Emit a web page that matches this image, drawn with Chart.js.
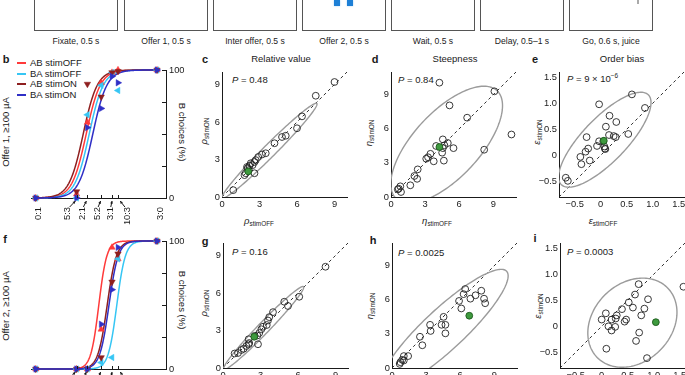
<!DOCTYPE html>
<html>
<head>
<meta charset="utf-8">
<title>Stimulation effects on choice</title>
<script src="https://cdn.jsdelivr.net/npm/chart.js@4.4.1/dist/chart.umd.min.js"></script>
<style>
  html, body { margin: 0; padding: 0; }
  body {
    position: relative; width: 685px; height: 375px; overflow: hidden;
    background: #fff; color: #1a1a1a;
    font-family: "Liberation Sans", Arial, Helvetica, sans-serif;
  }
  canvas { position: absolute; }
  .t    { position: absolute; white-space: nowrap; font-size: 9.5px; line-height: 1; transform: translate(-50%, -50%); }
  .l    { transform: translate(0, -50%); }
  .up   { transform: translate(-50%, -50%) rotate(-90deg); }
  .down { transform: translate(-50%, -50%) rotate(90deg); }
  .tag  { font-weight: bold; font-size: 11px; }
  .step { font-size: 8.6px; color: #222; }
  .box  { position: absolute; top: -12px; height: 43px; width: 84px; border: 1px solid #555; box-sizing: border-box; }
  .cue  { position: absolute; background: #1d7fd6; box-shadow: 0 0 2px #9cc8ee; }
  sub { font-size: 6.4px; vertical-align: -2px; line-height: 0; }
  sup { font-size: 6.4px; vertical-align: 4px; line-height: 0; }
  .leg-line { position: absolute; height: 2px; width: 9px; }
</style>
</head>
<body>

<!-- ── Trial sequence strip ── -->
<div class="box" style="left:34px"></div>
<div class="box" style="left:124px"></div>
<div class="box" style="left:213px"></div>
<div class="box" style="left:302px"></div>
<div class="box" style="left:391px"></div>
<div class="box" style="left:480px"></div>
<div class="box" style="left:569px"></div>
<div class="cue" style="left:334px; top:0; width:6px; height:6px"></div>
<div class="cue" style="left:347px; top:0; width:6px; height:6px"></div>
<div class="cue" style="left:637px; top:0; width:2px; height:4px; background:#aaa; box-shadow:none"></div>
<div class="t step" style="left:76px;  top:41px">Fixate, 0.5 s</div>
<div class="t step" style="left:166px; top:41px">Offer 1, 0.5 s</div>
<div class="t step" style="left:255px; top:41px">Inter offer, 0.5 s</div>
<div class="t step" style="left:344px; top:41px">Offer 2, 0.5 s</div>
<div class="t step" style="left:433px; top:41px">Wait, 0.5 s</div>
<div class="t step" style="left:522px; top:41px">Delay, 0.5–1 s</div>
<div class="t step" style="left:611px; top:41px">Go, 0.6 s, juice</div>

<!-- ── Panel letters & titles ── -->
<div class="t tag" style="left:6px;   top:59px">b</div>
<div class="t tag" style="left:205px; top:59px">c</div>
<div class="t tag" style="left:375px; top:59px">d</div>
<div class="t tag" style="left:535px; top:59px">e</div>
<div class="t tag" style="left:5px;   top:239px">f</div>
<div class="t tag" style="left:205px; top:241px">g</div>
<div class="t tag" style="left:373px; top:240px">h</div>
<div class="t tag" style="left:535px; top:238px">i</div>
<div class="t" style="left:281px; top:59px">Relative value</div>
<div class="t" style="left:455px; top:59px">Steepness</div>
<div class="t" style="left:622px; top:59px">Order bias</div>

<!-- ── Choice panel labels ── -->
<div class="t up"   style="left:6px;   top:132px">Offer 1, ≥100 µA</div>
<div class="t up"   style="left:6px;   top:306px">Offer 2, ≥100 µA</div>
<div class="t down" style="left:182px; top:132px">B choices (%)</div>
<div class="t down" style="left:182px; top:300px">B choices (%)</div>
<div id="legend"></div>

<!-- ── Scatter axis labels & stats ── -->
<div class="t up" style="left:204px; top:131px"><i>ρ</i><sub>stimON</sub></div>
<div class="t up" style="left:369px; top:133px"><i>η</i><sub>stimON</sub></div>
<div class="t up" style="left:537px; top:132px"><i>ε</i><sub>stimON</sub></div>
<div class="t up" style="left:204px; top:303px"><i>ρ</i><sub>stimON</sub></div>
<div class="t up" style="left:370px; top:306px"><i>η</i><sub>stimON</sub></div>
<div class="t up" style="left:538px; top:306px"><i>ε</i><sub>stimON</sub></div>
<div class="t" style="left:259px; top:221px"><i>ρ</i><sub>stimOFF</sub></div>
<div class="t" style="left:437px; top:221px"><i>η</i><sub>stimOFF</sub></div>
<div class="t" style="left:603px; top:221px"><i>ε</i><sub>stimOFF</sub></div>
<div class="t l" style="left:232px; top:80px"><i>P</i> = 0.48</div>
<div class="t l" style="left:398px; top:80px"><i>P</i> = 0.84</div>
<div class="t l" style="left:567px; top:79px"><i>P</i> = 9 × 10<sup>−6</sup></div>
<div class="t l" style="left:232px; top:252px"><i>P</i> = 0.16</div>
<div class="t l" style="left:398px; top:253px"><i>P</i> = 0.0025</div>
<div class="t l" style="left:567px; top:252px"><i>P</i> = 0.0003</div>

<canvas id="choice1"></canvas>
<canvas id="choice2"></canvas>
<canvas id="rho1"></canvas>
<canvas id="eta1"></canvas>
<canvas id="eps1"></canvas>
<canvas id="rho2"></canvas>
<canvas id="eta2"></canvas>
<canvas id="eps2"></canvas>

<script>
'use strict';

// ── Offer types (qB:qA) on the choice panels ───
const OFFER_LABELS = ['0:1', '5:3', '2:1', '5:2', '3:1', '10:3', '3:0'];
const OFFER_X      = [-0.17, 0.51, 0.69, 0.92, 1.10, 1.20, 1.85];  // log(qB/qA); 0:1 and 3:0 parked at the ends
const LABEL_X      = [-0.13, 0.35, 0.60, 0.85, 1.07, 1.35, 1.90];  // labels are spread out, arrows point back
const PCT_TICKS    = [0, 25, 50, 75, 100];

const CONDITIONS   = ['AB stimOFF', 'BA stimOFF', 'AB stimON', 'BA stimON'];
const COND_COLORS  = ['#ff3a3a', '#36c6f4', '#8e1f1f', '#2f2fc6'];
const COND_ROT     = [0, -90, 180, 90];   // ▲ ◀ ▼ ▶

// b: stimulation during offer 1 (% B choices)
const B1_AB_OFF = [0, 3, 59, 90, 98, 100, 100];
const B1_BA_OFF = [0, 0, 65, 88, 98, 84, 100];
const B1_AB_ON  = [0, 5, 89, 79, 98, 99, 100];
const B1_BA_ON  = [0, 0, 55, 70, 95, 90, 100];
const FIT1_CENTER = [0.67, 0.72, 0.62, 0.78];
const FIT1_SLOPE  = [8.5, 8.5, 8.5, 8.5];

// f: stimulation during offer 2
const B2_AB_OFF = [0, 0, 0, 31, 95, 86, 100];
const B2_BA_OFF = [0, 0, 0, 5, 9, 86, 100];
const B2_AB_ON  = [0, 0, 0, 9, 68, 90, 100];
const B2_BA_ON  = [0, 0, 0, 35, 62, 95, 100];
const FIT2_CENTER = [0.88, 1.18, 1.02, 1.05];
const FIT2_SLOPE  = [15, 14, 13, 13];

// ── Per-session fit parameters (stimOFF vs stimON) ──
const RHO1_OFF = [9.0, 7.5, 6.4, 6.0, 5.1, 4.8, 4.2, 3.5, 3.2, 2.9, 2.7, 2.6, 2.3, 2.45, 2.2, 2.05, 2.15, 2.0, 1.9, 1.8, 2.6, 0.9];
const RHO1_ON  = [9.2, 8.1, 6.45, 5.5, 4.9, 4.8, 4.3, 3.5, 3.4, 3.2, 2.95, 2.8, 2.7, 2.55, 2.5, 2.3, 2.15, 2.4, 1.9, 1.75, 1.9, 0.55];
const RHO1_MEAN = [2.1, 2.05];
const RHO1_ELLIPSE = [3.8, 3.7, 5.35, 0.5, 45];   // centre x, centre y, semi-axes, angle

const ETA1_OFF = [4.26, 9.1, 5.15, 6.7, 10.6, 8.2, 4.56, 5.0, 4.7, 5.5, 3.97, 4.56, 4.5, 4.65, 3.76, 3.47, 3.26, 3.1, 2.35, 2.3, 2.06, 1.7, 0.82, 0.68, 0.88, 0.6];
const ETA1_ON  = [10.06, 9.3, 8.06, 6.98, 5.5, 4.16, 5.07, 4.75, 4.55, 4.3, 4.49, 4.3, 3.9, 3.2, 3.14, 3.8, 3.5, 3.37, 2.43, 1.6, 1.85, 1.03, 0.94, 0.73, 0.44, 0.67];
const ETA1_MEAN = [4.26, 4.4];
const ETA1_ELLIPSE = [4.9, 4.6, 6.5, 2.9, 47];

const EPS1_OFF = [-0.03, 0.60, 0.85, 0.17, 0.30, 0.10, -0.27, 0.16, 0.25, 0.29, 0.53, -0.03, 0.05, -0.07, 0.07, 0.08, 0.09, -0.24, -0.29, -0.39, -0.21, -0.37, -0.67, -0.63];
const EPS1_ON  = [0.98, 1.17, 0.91, 0.76, 0.64, 0.55, 0.35, 0.39, 0.37, 0.35, 0.41, 0.27, 0.27, 0.18, 0.17, 0.13, 0.12, 0.13, 0.07, -0.03, -0.10, -0.17, -0.43, -0.49];
const EPS1_MEAN = [0.06, 0.28];
const EPS1_ELLIPSE = [0.08, 0.3, 1.2, 0.42, 46];

const RHO2_OFF = [8.2, 4.9, 6.1, 5.2, 4.0, 3.7, 3.6, 3.5, 3.2, 3.07, 2.9, 2.75, 2.53, 2.05, 2.1, 1.87, 1.65, 1.47, 1.2, 0.93, 2.05, 2.8];
const RHO2_ON  = [8.1, 5.3, 5.7, 4.96, 4.47, 4.07, 3.8, 3.44, 3.3, 3.1, 2.8, 2.6, 2.57, 2.3, 2.0, 1.76, 1.54, 1.44, 1.2, 1.16, 1.9, 1.9];
const RHO2_MEAN = [2.5, 2.5];
const RHO2_ELLIPSE = [3.25, 3.2, 4.6, 0.45, 46];

const ETA2_OFF = [6.44, 6.3, 5.9, 6.1, 6.9, 7.35, 7.86, 8.1, 8.2, 4.54, 4.36, 4.7, 4.7, 3.35, 3.4, 2.46, 2.67, 1.04, 1.42, 0.9, 0.74, 0.68, 1.04];
const ETA2_ON  = [6.95, 6.5, 5.9, 5.24, 6.1, 6.4, 6.8, 6.1, 5.7, 4.5, 3.8, 3.8, 3.05, 3.8, 3.26, 2.75, 2.0, 1.05, 1.05, 0.72, 0.51, 0.36, 0.66];
const ETA2_MEAN = [6.8, 4.6];
const ETA2_ELLIPSE = [4.6, 3.4, 7.5, 1.8, 43];

const EPS2_OFF = [1.57, 0.71, 0.64, 0.89, 0.52, 0.39, 0.6, 0.82, 0.76, 0.47, 0.44, 0.29, 0.27, 0.19, 0.08, 0.0, 0.13, 0.19, 0.26, 0.72, 0.66, 0.87, 0.09];
const EPS2_ON  = [0.76, 0.81, 0.61, 0.52, 0.46, 0.33, 0.36, 0.34, 0.21, 0.13, 0.09, 0.21, 0.15, 0.13, 0.25, 0.13, 0.0, -0.08, -0.01, -0.12, -0.28, -0.61, -0.43];
const EPS2_MEAN = [1.04, 0.08];
const EPS2_ELLIPSE = [0.59, 0.07, 0.95, 0.75, 45];

// ── Axis ranges & ticks ──
const RHO_RANGE = [0, 10];
const ETA_RANGE = [0, 11];
const EPS_RANGE = [-0.8, 1.6];
const RHO_TICKS = [0, 3, 6, 9];
const ETA_TICKS = [0, 3, 6, 9];
const EPS_TICKS = [-0.5, 0, 0.5, 1.0, 1.5];

const FONT = '"Liberation Sans", Arial, Helvetica, sans-serif';
const TICK_FONT = { family: FONT, size: 9.3 };
const INK = '#1a1a1a';

// ── Helpers ───────────────────────────────────
function place(id, left, top, w, h) {
  const c = document.getElementById(id);
  c.width = w; c.height = h;
  c.style.left = left + 'px'; c.style.top = top + 'px';
  return c;
}

function arrow(ctx, x1, y1, x2, y2) {
  const a = Math.atan2(y2 - y1, x2 - x1);
  ctx.beginPath(); ctx.moveTo(x1, y1); ctx.lineTo(x2, y2); ctx.stroke();
  ctx.beginPath();
  ctx.moveTo(x2, y2);
  ctx.lineTo(x2 - 3 * Math.cos(a - 0.5), y2 - 3 * Math.sin(a - 0.5));
  ctx.lineTo(x2 - 3 * Math.cos(a + 0.5), y2 - 3 * Math.sin(a + 0.5));
  ctx.closePath(); ctx.fill();
}

const fixedTicks = vals => s => { s.ticks = vals.map(v => ({ value: v })); };

// ── Legend (custom, like the paper) ────────────
document.getElementById('legend').innerHTML = CONDITIONS.map((c, i) => {
  const y = 63 + i * 10.7;
  return `<div class="leg-line" style="left:17px; top:${y - 1}px; background:${COND_COLORS[i]}"></div>
          <div class="t l" style="left:30px; top:${y}px">${c}</div>`;
}).join('');

// ── Plugin: fitted sigmoids, offer ticks and arrows ──
const choiceDecor = {
  id: 'choiceDecor',
  beforeDatasetsDraw(chart, args, opts) {
    const { ctx, scales: { x, y } } = chart;
    const x0 = x.getPixelForValue(OFFER_X[0]);
    const x1 = x.getPixelForValue(OFFER_X[OFFER_X.length - 1]);
    ctx.save();
    ctx.lineWidth = 1.5;
    opts.centers.forEach((c, i) => {
      const k = opts.slopes[i];
      ctx.strokeStyle = COND_COLORS[i];
      ctx.beginPath();
      for (let px = x0; px <= x1 + 0.01; px += 0.5) {
        const v = x.getValueForPixel(px);
        const py = y.getPixelForValue(100 / (1 + Math.exp(-k * (v - c))));
        if (px === x0) ctx.moveTo(px, py); else ctx.lineTo(px, py);
      }
      ctx.stroke();
    });
    ctx.restore();
  },
  afterDraw(chart) {
    const { ctx, chartArea: a, scales: { x, y } } = chart;
    ctx.save();
    ctx.strokeStyle = INK; ctx.fillStyle = INK; ctx.lineWidth = 1;
    PCT_TICKS.forEach(v => {
      const py = Math.round(y.getPixelForValue(v)) + 0.5;
      ctx.beginPath(); ctx.moveTo(a.right, py); ctx.lineTo(a.right - 4, py); ctx.stroke();
    });
    for (let i = 1; i < OFFER_X.length - 1; i++) {
      const tx = Math.round(x.getPixelForValue(OFFER_X[i])) + 0.5;
      ctx.beginPath(); ctx.moveTo(tx, a.bottom); ctx.lineTo(tx, a.bottom - 3); ctx.stroke();
      const lx = x.getPixelForValue(LABEL_X[i]);
      const d = tx - lx;
      arrow(ctx, lx + d * 0.25, a.bottom + 9, lx + d * 0.8, a.bottom + 3);
    }
    ctx.restore();
  },
};

function choiceChart(id, top, series, centers, slopes) {
  const canvas = place(id, 0, top, 200, 180);
  return new Chart(canvas, {
    type: 'scatter',
    data: {
      datasets: series.map((vals, i) => ({
        label: CONDITIONS[i],
        data: vals.map((v, j) => ({ x: OFFER_X[j], y: v })),
        order: series.length - i,          // BA stimON ends up on top
        pointStyle: 'triangle',
        rotation: COND_ROT[i],
        pointRadius: 3.7,
        backgroundColor: COND_COLORS[i],
        borderColor: COND_COLORS[i],
        borderWidth: 0.5,
        clip: false,
      })),
    },
    options: {
      responsive: false, animation: false, devicePixelRatio: 1,
      layout: { padding: { left: 31, top: 10, right: 14, bottom: 12 } },
      plugins: { legend: { display: false }, tooltip: { enabled: false }, choiceDecor: { centers, slopes } },
      scales: {
        x: {
          type: 'linear', min: -0.25, max: 2.0,
          afterBuildTicks: fixedTicks(LABEL_X),
          afterFit: s => { s.height = 30; },
          grid: { display: false, drawTicks: false },
          border: { color: INK, width: 1 },
          ticks: {
            autoSkip: false, minRotation: 90, maxRotation: 90, padding: 9,
            font: TICK_FONT, color: INK,
            callback: (v, i) => OFFER_LABELS[i],
          },
        },
        y: {
          position: 'right', min: 0, max: 100,
          afterBuildTicks: fixedTicks(PCT_TICKS),
          afterFit: s => { s.width = 20; },
          grid: { display: false, drawTicks: false },
          border: { color: INK, width: 1 },
          ticks: { padding: 3, font: TICK_FONT, color: INK, callback: v => (v === 0 || v === 100) ? String(v) : '' },
        },
      },
    },
    plugins: [choiceDecor],
  });
}

// ── Plugin: identity line + covariance ellipse ──
const scatterDecor = {
  id: 'scatterDecor',
  beforeDatasetsDraw(chart, args, opts) {
    const { ctx, chartArea: a, scales: { x, y } } = chart;
    ctx.save();
    ctx.beginPath(); ctx.rect(a.left, a.top, a.right - a.left, a.bottom - a.top); ctx.clip();

    ctx.setLineDash([3, 3]); ctx.strokeStyle = INK; ctx.lineWidth = 0.9;
    ctx.beginPath();
    ctx.moveTo(x.getPixelForValue(x.min), y.getPixelForValue(x.min));
    ctx.lineTo(x.getPixelForValue(x.max), y.getPixelForValue(x.max));
    ctx.stroke();

    const [cx, cy, ra, rb, deg] = opts.ellipse;
    const th = deg * Math.PI / 180;
    ctx.setLineDash([]); ctx.strokeStyle = '#9b9b9b'; ctx.lineWidth = 1.4;
    ctx.beginPath();
    for (let s = 0; s <= 360; s += 2) {
      const t = s * Math.PI / 180;
      const vx = cx + ra * Math.cos(th) * Math.cos(t) - rb * Math.sin(th) * Math.sin(t);
      const vy = cy + ra * Math.sin(th) * Math.cos(t) + rb * Math.cos(th) * Math.sin(t);
      const px = x.getPixelForValue(vx), py = y.getPixelForValue(vy);
      if (s === 0) ctx.moveTo(px, py); else ctx.lineTo(px, py);
    }
    ctx.closePath(); ctx.stroke();
    ctx.restore();
  },
};

function tickText(v) {
  if (v === 0) return '0';
  if (Number.isInteger(v) && Math.abs(v) >= 2) return String(v);
  return (v < 0 ? '−' : '') + Math.abs(v).toFixed(1);
}

function axis(range, ticks, fit) {
  return {
    type: 'linear', min: range[0], max: range[1],
    afterBuildTicks: fixedTicks(ticks),
    afterFit: fit,
    grid: { display: false, drawTicks: false },
    border: { color: INK, width: 1 },
    ticks: { padding: 2, font: TICK_FONT, color: INK, callback: v => tickText(v) },
  };
}

function scatterChart(id, x0, y0, offVals, onVals, mean, range, ticks, ellipse) {
  const canvas = place(id, x0 - 40, y0 - 8, 173, 159);
  return new Chart(canvas, {
    type: 'scatter',
    data: {
      datasets: [
        {
          data: offVals.map((v, i) => ({ x: v, y: onVals[i] })),
          pointRadius: 3.4, borderWidth: 0.9,
          borderColor: '#222', backgroundColor: 'rgba(255,255,255,0)',
          clip: false,
        },
        {
          data: [{ x: mean[0], y: mean[1] }],
          order: -1,
          pointRadius: 3.4, borderWidth: 0.9,
          borderColor: '#1d5a1d', backgroundColor: '#3e9a3e',
          clip: false,
        },
      ],
    },
    options: {
      responsive: false, animation: false, devicePixelRatio: 1,
      layout: { padding: { left: 0, top: 8, right: 8, bottom: 0 } },
      plugins: { legend: { display: false }, tooltip: { enabled: false }, scatterDecor: { ellipse } },
      scales: {
        x: axis(range, ticks, s => { s.height = 26; }),
        y: axis(range, ticks, s => { s.width = 40; }),
      },
    },
    plugins: [scatterDecor],
  });
}

// ── Init ───────────────────────────────────────
choiceChart('choice1', 60,  [B1_AB_OFF, B1_BA_OFF, B1_AB_ON, B1_BA_ON], FIT1_CENTER, FIT1_SLOPE);
choiceChart('choice2', 231, [B2_AB_OFF, B2_BA_OFF, B2_AB_ON, B2_BA_ON], FIT2_CENTER, FIT2_SLOPE);

scatterChart('rho1', 222, 72,  RHO1_OFF, RHO1_ON, RHO1_MEAN, RHO_RANGE, RHO_TICKS, RHO1_ELLIPSE);
scatterChart('eta1', 391, 72,  ETA1_OFF, ETA1_ON, ETA1_MEAN, ETA_RANGE, ETA_TICKS, ETA1_ELLIPSE);
scatterChart('eps1', 559, 72,  EPS1_OFF, EPS1_ON, EPS1_MEAN, EPS_RANGE, EPS_TICKS, EPS1_ELLIPSE);
scatterChart('rho2', 223, 243, RHO2_OFF, RHO2_ON, RHO2_MEAN, RHO_RANGE, RHO_TICKS, RHO2_ELLIPSE);
scatterChart('eta2', 392, 243, ETA2_OFF, ETA2_ON, ETA2_MEAN, ETA_RANGE, ETA_TICKS, ETA2_ELLIPSE);
scatterChart('eps2', 560, 243, EPS2_OFF, EPS2_ON, EPS2_MEAN, EPS_RANGE, EPS_TICKS, EPS2_ELLIPSE);
</script>
</body>
</html>
